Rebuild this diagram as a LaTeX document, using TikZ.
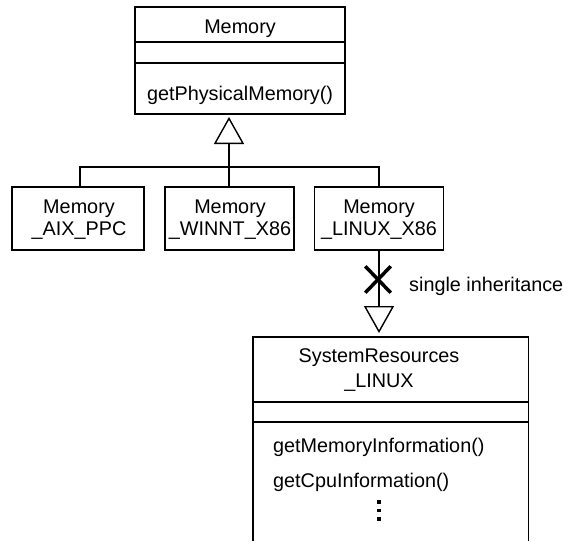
\documentclass[tikz,border=0pt]{standalone}
\usepackage{fontspec}
\setmainfont{Liberation Sans}
\usetikzlibrary{arrows.meta,shapes.misc}
\tikzset{
  umlline/.style={line width=1.4pt},
  classbox/.style={draw, line width=1.4pt, rectangle, inner sep=0pt},
  txt/.style={inner sep=0pt, anchor=base, font=\fontsize{19.8}{21.5}\selectfont},
  inherit/.style={umlline, -{Triangle[open, length=27pt, width=30pt, line width=1.4pt]}},
}
\begin{document}
\begin{tikzpicture}[x=1pt, y=-1pt]
\useasboundingbox (0,0) rectangle (564,541);

% base class Memory
\node[classbox, minimum width=210pt, minimum height=107pt] (mem) at (240,60.5) {};
\draw[umlline] (135,42) -- (345,42);
\draw[umlline] (135,63) -- (345,63);
\node[txt] (memname) at (240,33) {Memory};
\node[txt] (memop) at (240,100) {getPhysicalMemory()};

% platform specific subclasses
\node[classbox, minimum width=132pt, minimum height=63pt] (aix) at (78,218.5) {};
\node[classbox, minimum width=129pt, minimum height=63pt] (win) at (229.5,218.5) {};
\node[classbox, minimum width=129pt, minimum height=63pt] (lnx) at (379,218.5) {};
\node[txt] (aixa) at (79,213.5) {Memory};
\node[txt] (aixb) at (79,235) {\_AIX\_PPC};
\node[txt] (wina) at (230,213.5) {Memory};
\node[txt] (winb) at (230,235) {\_WINNT\_X86};
\node[txt] (lnxa) at (379,213.5) {Memory};
\node[txt] (lnxb) at (379,235) {\_LINUX\_X86};

% generalisation tree
\coordinate (bus) at (229,167);
\draw[umlline] (80,187) |- (bus);
\draw[umlline] (379,187) |- (bus);
\draw[inherit] (229,187) -- (229,117);

% SystemResources_LINUX (continues below the page edge)
\node[inner sep=0pt, minimum width=275pt, minimum height=204pt] (sys) at (390.5,439) {};
\draw[umlline] (sys.south west) -- (sys.north west) -- (sys.north east) -- (sys.south east);
\draw[umlline] (253,402) -- (528,402);
\draw[umlline] (253,422) -- (528,422);
\node[txt] (sysa) at (379,362) {SystemResources};
\node[txt] (sysb) at (379,387) {\_LINUX};
\node[txt, anchor=base west] (op1) at (273,452) {getMemoryInformation()};
\node[txt, anchor=base west] (op2) at (273,487) {getCpuInformation()};
\foreach \yy in {502,510.5,519}
  \fill (377.2,\yy-1.8) rectangle (380.8,\yy+1.8);

% forbidden inheritance
\draw[inherit] (lnx.south) -- (379,333);
\node[draw, cross out, line width=3.5pt, minimum width=22pt, minimum height=23pt, inner sep=0pt] (nox) at (378,279.5) {};
\node[txt, anchor=base west] (note) at (409,291) {single inheritance};
\end{tikzpicture}
\end{document}
